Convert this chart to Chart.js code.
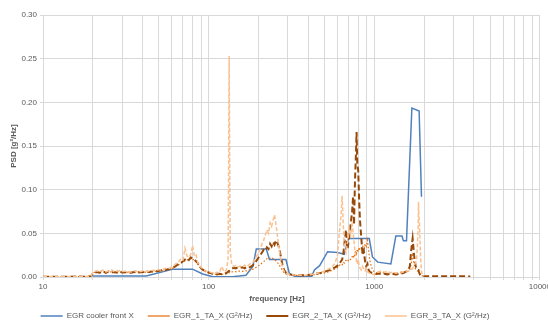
<!DOCTYPE html>
<html><head><meta charset="utf-8">
<script src="https://cdn.jsdelivr.net/npm/chart.js@4/dist/chart.umd.min.js"></script>
<style>html,body{margin:0;padding:0;background:#fff;overflow:hidden;width:548px;height:327px}canvas{display:block}</style>
</head><body><canvas id="c" width="553" height="327"></canvas>
<script>
const seriesNames = ['EGR cooler front X', 'EGR_1_TA_X (G\u00b2/Hz)', 'EGR_2_TA_X (G\u00b2/Hz)', 'EGR_3_TA_X (G\u00b2/Hz)'];
const xAxisTitle = 'frequency [Hz]';
const yAxisTitle = 'PSD [g\u00b2/Hz]';
const xGridValues = [10,20,30,40,50,60,70,80,90,100,200,300,400,500,600,700,800,900,1000,2000,3000,4000,5000,6000,7000,8000,9000,10000];
const xDecades = [10,100,1000,10000];
const xTickLabels = ['10','100','1000','10000'];
const yTickValues = [0,0.05,0.10,0.15,0.20,0.25,0.30];

// EGR cooler front X
const blueFreq = [20,42,61,80,92,106,140,168,185,194,223,233,293,307,330,420,435,468,523,601,659,700,933,975,1050,1260,1350,1470,1500,1566,1687,1866,1928];
const blueVals = [0.0011,0.0011,0.009,0.009,0.0034,0.0003,0.0003,0.002,0.012,0.032,0.032,0.020,0.020,0.004,0.001,0.001,0.008,0.013,0.029,0.028,0.026,0.044,0.044,0.023,0.017,0.015,0.047,0.047,0.0416,0.0416,0.1935,0.190,0.092];

// shared frequency grid of the three TA_X series
const taFreq = [
 10,12,14,16,18,19.5,
 20,21,22,23,24,25,26,27,28,29,30,
 32,34,36,38,40,
 42,44,46,48,50,52,54,56,58,60,
 62,64,66,68,70,72,74,76,78,80,82,84,86,88,90,
 93,96,100,
 104,108,112,116,120,124,128,
 131,132,133,134,135,
 138,142,146,150,
 155,160,165,170,175,180,185,190,195,200,
 205,210,215,220,225,230,235,240,245,250,255,260,265,270,275,280,285,290,295,300,
 310,320,330,340,350,360,370,380,390,400,
 420,440,460,480,500,
 520,540,560,580,600,
 615,630,640,650,660,675,690,705,720,735,
 745,755,765,775,782,790,800,810,820,
 835,850,865,880,895,910,925,940,960,980,1000,
 1030,1060,1100,1150,1200,1250,1300,1350,1400,1450,1500,1550,1600,
 1640,1670,1690,1705,1720,1740,1760,1780,1800,1820,1840,
 1850,1860,1875,1890,1910,1930,1960,2000
];
const egr1Vals = [
 0.0004,0.0005,0.0004,0.0006,0.0005,0.0008,
 0.0045,0.0060,0.0055,0.0068,0.0052,0.0061,0.0057,0.0049,0.0063,0.0055,0.0058,
 0.0052,0.0060,0.0050,0.0058,0.0054,
 0.0056,0.0062,0.0059,0.0066,0.0070,0.0068,0.0076,0.0082,0.0088,0.0095,
 0.0110,0.0125,0.0140,0.0155,0.0172,0.0185,0.0200,0.0190,0.0215,0.0205,0.0190,0.0175,0.0150,0.0120,0.0095,
 0.0075,0.0060,0.0048,
 0.0038,0.0030,0.0034,0.0028,0.0032,0.0030,0.0036,
 0.0045,0.0048,0.0052,0.0050,0.0055,
 0.0058,0.0062,0.0060,0.0066,
 0.0068,0.0065,0.0072,0.0070,0.0078,0.0082,0.0090,0.0100,0.0115,0.0130,
 0.0140,0.0160,0.0175,0.0195,0.0210,0.0220,0.0215,0.0225,0.0210,0.0200,0.0185,0.0165,0.0150,0.0120,0.0095,0.0070,0.0050,0.0040,0.0032,0.0028,
 0.0025,0.0022,0.0020,0.0018,0.0020,0.0017,0.0019,0.0016,0.0018,0.0020,
 0.0024,0.0028,0.0032,0.0040,0.0048,
 0.0055,0.0065,0.0080,0.0095,0.0110,
 0.0130,0.0150,0.0140,0.0170,0.0160,0.0190,0.0175,0.0210,0.0200,0.0230,
 0.0250,0.0220,0.0280,0.0300,0.0270,0.0320,0.0290,0.0340,0.0310,
 0.0330,0.0360,0.0300,0.0380,0.0350,0.0420,0.0300,0.0190,0.0120,0.0080,0.0060,
 0.0050,0.0045,0.0055,0.0048,0.0042,0.0050,0.0046,0.0040,0.0044,0.0050,0.0055,0.0060,0.0065,
 0.0080,0.0150,0.0220,0.0250,0.0200,0.0150,0.0110,0.0090,0.0080,0.0070,0.0065,
 0.0060,0.0050,0.0040,0.0030,0.0020,0.0015,0.0012,0.0010
];
const egr2Vals = [
 0.0003,0.0004,0.0003,0.0005,0.0004,0.0007,
 0.0040,0.0058,0.0050,0.0062,0.0047,0.0066,0.0053,0.0058,0.0050,0.0061,0.0052,
 0.0055,0.0048,0.0060,0.0052,0.0057,
 0.0060,0.0058,0.0066,0.0063,0.0072,0.0078,0.0074,0.0086,0.0092,0.0100,
 0.0115,0.0132,0.0150,0.0162,0.0180,0.0200,0.0215,0.0195,0.0225,0.0210,0.0198,0.0180,0.0160,0.0125,0.0100,
 0.0080,0.0065,0.0052,
 0.0042,0.0035,0.0030,0.0038,0.0033,0.0040,0.0045,
 0.0060,0.0065,0.0070,0.0072,0.0075,
 0.0095,0.0105,0.0098,0.0110,
 0.0105,0.0112,0.0100,0.0115,0.0108,0.0120,0.0135,0.0160,0.0190,0.0220,
 0.0250,0.0280,0.0310,0.0300,0.0340,0.0320,0.0380,0.0350,0.0400,0.0370,0.0420,0.0390,0.0350,0.0280,0.0200,0.0130,0.0085,0.0060,0.0045,0.0038,
 0.0030,0.0025,0.0022,0.0020,0.0018,0.0021,0.0019,0.0022,0.0020,0.0024,
 0.0028,0.0035,0.0042,0.0050,0.0060,
 0.0070,0.0080,0.0095,0.0110,0.0130,
 0.0150,0.0180,0.0200,0.0260,0.0380,0.0540,0.0320,0.0450,0.0600,0.0750,
 0.0920,0.0600,0.1100,0.1400,0.1660,0.1300,0.1220,0.0900,0.0650,
 0.0450,0.0250,0.0300,0.0180,0.0120,0.0150,0.0080,0.0060,0.0050,0.0040,0.0035,
 0.0035,0.0040,0.0032,0.0038,0.0030,0.0036,0.0033,0.0030,0.0034,0.0040,0.0045,0.0060,0.0080,
 0.0120,0.0300,0.0380,0.0440,0.0360,0.0250,0.0180,0.0120,0.0100,0.0090,0.0080,
 0.0080,0.0060,0.0040,0.0025,0.0015,0.0012,0.0010,0.0010
];
const egr2TailFreq = [2100,2400,2800,3200,3500,3800];
const egr2TailVals = [0.0010,0.0008,0.0009,0.0007,0.0008,0.0006];
const egr3Vals = [
 0.0005,0.0006,0.0005,0.0007,0.0006,0.0010,
 0.0050,0.0072,0.0060,0.0078,0.0058,0.0070,0.0082,0.0059,0.0068,0.0075,0.0062,
 0.0065,0.0058,0.0072,0.0060,0.0068,
 0.0070,0.0066,0.0078,0.0072,0.0085,0.0080,0.0095,0.0102,0.0098,0.0118,
 0.0135,0.0160,0.0175,0.0210,0.0195,0.0330,0.0240,0.0225,0.0260,0.0360,0.0235,0.0250,0.0160,0.0135,0.0110,
 0.0090,0.0072,0.0060,
 0.0050,0.0040,0.0055,0.0045,0.0120,0.0060,0.0080,
 0.0200,0.1200,0.2530,0.1400,0.0300,
 0.0140,0.0120,0.0130,0.0115,
 0.0125,0.0110,0.0135,0.0120,0.0140,0.0155,0.0170,0.0200,0.0240,0.0280,
 0.0320,0.0380,0.0420,0.0480,0.0540,0.0500,0.0620,0.0580,0.0650,0.0710,0.0600,0.0480,0.0350,0.0250,0.0160,0.0100,0.0070,0.0050,0.0042,0.0035,
 0.0030,0.0026,0.0022,0.0020,0.0023,0.0019,0.0021,0.0018,0.0022,0.0025,
 0.0030,0.0036,0.0045,0.0055,0.0070,
 0.0085,0.0100,0.0120,0.0160,0.0250,
 0.0500,0.0700,0.0930,0.0600,0.0350,0.0280,0.0400,0.0550,0.0480,0.0600,
 0.0520,0.0400,0.0300,0.0220,0.0180,0.0150,0.0200,0.0130,0.0100,
 0.0080,0.0120,0.0090,0.0070,0.0100,0.0060,0.0050,0.0040,0.0035,0.0030,0.0030,
 0.0050,0.0060,0.0070,0.0055,0.0065,0.0050,0.0058,0.0045,0.0050,0.0060,0.0055,0.0065,0.0070,
 0.0070,0.0080,0.0090,0.0100,0.0110,0.0130,0.0150,0.0170,0.0190,0.0350,0.0540,
 0.0860,0.0700,0.0620,0.0400,0.0170,0.0060,0.0020,0.0010
];

const toPts = (fs, vs) => fs.map((f, i) => ({x: f, y: vs[i]}));
const FONT = '"Liberation Sans", Arial, sans-serif';
const TXT = '#595959';
const GRID = '#d9d9d9';

const tweak = {
  id: 'tweak',
  afterLayout(chart) {
    const lg = chart.legend;
    const h = lg.height;
    lg.top = 298; lg.bottom = 298 + h;
    lg.left -= 5; lg.right -= 5;
  },
  afterDraw(chart) {
    const ctx = chart.ctx;
    ctx.save();
    ctx.font = 'bold 8px ' + FONT;
    ctx.fillStyle = TXT;
    ctx.textAlign = 'center';
    ctx.textBaseline = 'middle';
    ctx.fillText(xAxisTitle, 277, 299);
    ctx.restore();
  }
};

new Chart(document.getElementById('c'), {
  type: 'line',
  data: {
    datasets: [
      {label: seriesNames[0], data: toPts(blueFreq, blueVals), borderColor: '#4F81BD', backgroundColor: '#4F81BD', borderWidth: 1.5, order: 4},
      {label: seriesNames[1], data: toPts(taFreq, egr1Vals), borderColor: '#E46C0A', backgroundColor: '#E46C0A', borderWidth: 1.2, borderDash: [1.5, 2], order: 3},
      {label: seriesNames[2], data: toPts(taFreq.concat(egr2TailFreq), egr2Vals.concat(egr2TailVals)), borderColor: '#984807', backgroundColor: '#984807', borderWidth: 2, borderDash: [6, 3], order: 2},
      {label: seriesNames[3], data: toPts(taFreq, egr3Vals), borderColor: '#FAC090', backgroundColor: '#FAC090', borderWidth: 1.5, borderDash: [4, 2], order: 1}
    ]
  },
  options: {
    responsive: false, animation: false, devicePixelRatio: 1,
    elements: {point: {radius: 0}, line: {tension: 0}},
    layout: {padding: {left: 0, right: 13, top: 15, bottom: 0}},
    plugins: {
      tooltip: {enabled: false},
      legend: {
        position: 'bottom',
        labels: {
          usePointStyle: true, pointStyle: 'line', pointStyleWidth: 22, boxHeight: 8,
          padding: 14, color: TXT, font: {family: FONT, size: 8},
          sort: (a, b) => a.datasetIndex - b.datasetIndex
        }
      }
    },
    scales: {
      x: {
        type: 'logarithmic', min: 10, max: 10000,
        afterBuildTicks(s) { s.ticks = xGridValues.map(v => ({value: v})); },
        afterFit(s) { s.height = 18; },
        ticks: {
          autoSkip: false, maxRotation: 0, minRotation: 0, padding: 2, color: TXT,
          font: {family: FONT, size: 8},
          callback(v) { const i = xDecades.indexOf(v); return i >= 0 ? xTickLabels[i] : ''; }
        },
        grid: {color: GRID, tickLength: 3},
        border: {color: GRID}
      },
      y: {
        min: 0, max: 0.3,
        afterBuildTicks(s) { s.ticks = yTickValues.map(v => ({value: v})); },
        afterFit(s) { s.width = 43; },
        ticks: {color: TXT, padding: 3, font: {family: FONT, size: 8}, callback: v => v.toFixed(2)},
        grid: {color: GRID, tickLength: 3},
        border: {color: GRID},
        title: {display: true, text: yAxisTitle, color: TXT, font: {family: FONT, size: 8, weight: 'bold'}, padding: {top: 9, bottom: 0}}
      }
    }
  },
  plugins: [tweak]
});
</script>
</body></html>
